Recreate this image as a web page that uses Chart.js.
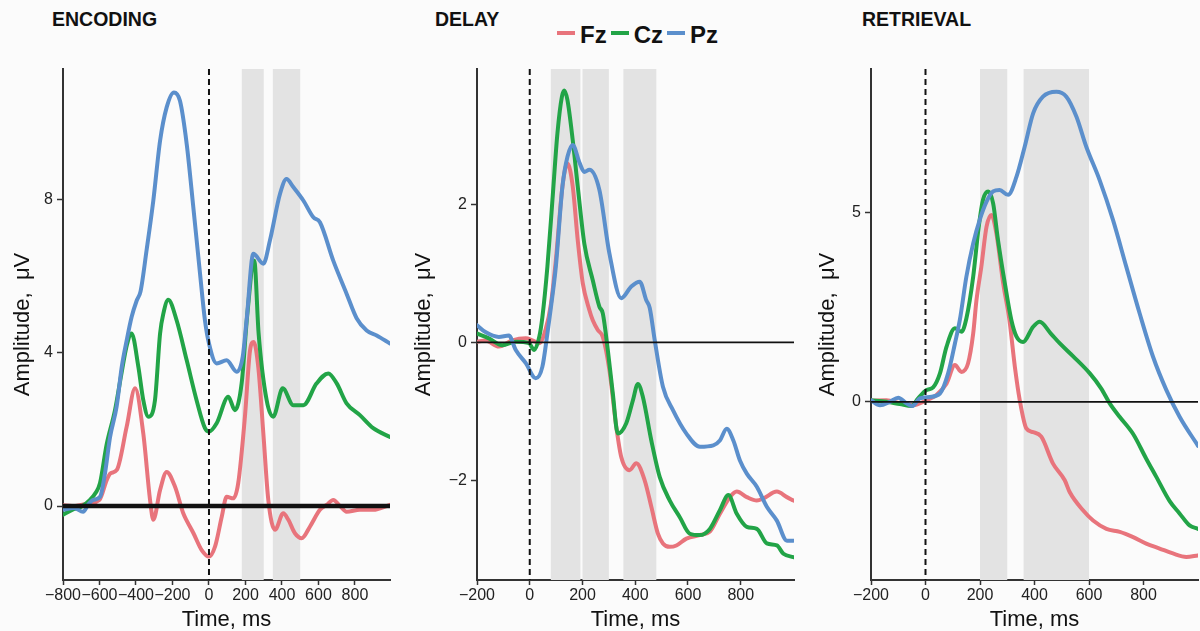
<!DOCTYPE html>
<html lang="en">
<head>
<meta charset="UTF-8">
<title>ERP amplitude: encoding, delay, retrieval</title>
<script src="https://cdn.jsdelivr.net/npm/chart.js"></script>
<style>
    body {
        margin: 0;
        background: #fbfbfb;
        font-family: "Liberation Sans", Arial, sans-serif;
    }

    .page {
        position: relative;
        width: 1200px;
        height: 631px;
        overflow: hidden;
    }

    .panel {
        position: absolute;
        top: 0;
        width: 400px;
        height: 631px;
    }

    .title {
        position: absolute;
        top: 10px;
        font-weight: bold;
        font-size: 19.5px;
        line-height: 1;
        color: #111;
    }

    .legend {
        position: absolute;
        left: 557px;
        top: 23px;
        display: flex;
        align-items: center;
        font-weight: bold;
        font-size: 24px;
        line-height: 1;
        color: #111;
    }

    .legend .swatch {
        display: inline-block;
        width: 18px;
        height: 3.5px;
        margin-right: 5px;
        position: relative;
        top: -2px;
    }

    .legend .name {
        margin-right: 4px;
    }
</style>
</head>
<body>
<div class="page">
    <div class="title" style="left:52px">ENCODING</div>
    <div class="title" style="left:435px">DELAY</div>
    <div class="title" style="left:862px">RETRIEVAL</div>
    <div class="legend" id="legend"></div>

    <div class="panel" style="left:0"><canvas id="encodingChart"></canvas></div>
    <div class="panel" style="left:400px"><canvas id="delayChart"></canvas></div>
    <div class="panel" style="left:800px"><canvas id="retrievalChart"></canvas></div>
</div>

<script>
    // electrodes
    const seriesNames = ['Fz', 'Cz', 'Pz'];
    const seriesColors = ['#E8747C', '#22A447', '#5B8FCC'];

    // [time ms, amplitude µV]
    const encodingFz = [[-800, 0.02], [-750, 0.0], [-700, 0.03], [-650, 0.08], [-600, 0.16], [-560, 0.68], [-540, 0.85], [-505, 0.94], [-451, 2.07], [-405, 3.07], [-360, 1.89], [-323, 0.16], [-305, -0.36], [-268, 0.42], [-232, 0.89], [-186, 0.5], [-141, -0.19], [-120, -0.4], [-85, -0.71], [-40, -1.15], [0, -1.32], [33, -1.06], [70, -0.28], [97, 0.24], [133, 0.2], [160, 0.59], [197, 2.33], [225, 4.06], [245, 4.28], [270, 3.63], [298, 1.89], [325, 0.16], [362, -0.62], [407, -0.19], [435, -0.36], [471, -0.71], [508, -0.84], [553, -0.54], [608, -0.1], [645, 0.03], [681, 0.16], [718, 0.0], [754, -0.15], [827, -0.1], [900, -0.1], [992, 0.03]];
    const encodingCz = [[-800, -0.23], [-750, -0.1], [-700, -0.02], [-652, 0.16], [-620, 0.35], [-597, 0.6], [-561, 1.6], [-515, 2.5], [-478, 3.5], [-450, 4.2], [-424, 4.5], [-387, 3.63], [-360, 2.76], [-332, 2.33], [-296, 2.76], [-268, 4.5], [-250, 5.02], [-223, 5.38], [-177, 4.84], [-122, 3.8], [-68, 2.76], [-22, 2.03], [0, 1.94], [42, 2.16], [106, 2.85], [142, 2.5], [179, 3.2], [210, 5.0], [248, 6.4], [272, 4.5], [316, 2.76], [352, 2.33], [404, 3.07], [462, 2.63], [517, 2.63], [590, 3.2], [654, 3.46], [700, 3.2], [754, 2.68], [827, 2.37], [900, 2.03], [992, 1.8]];
    const encodingPz = [[-800, -0.1], [-740, -0.05], [-690, -0.15], [-660, 0.05], [-634, 0.16], [-597, 0.24], [-570, 0.85], [-542, 1.8], [-506, 2.6], [-478, 3.63], [-451, 4.32], [-424, 4.93], [-396, 5.36], [-375, 5.6], [-342, 6.67], [-305, 7.97], [-268, 9.53], [-232, 10.4], [-192, 10.79], [-159, 10.57], [-122, 9.44], [-86, 7.8], [-49, 6.06], [-22, 4.84], [0, 4.24], [42, 3.72], [97, 3.8], [152, 3.5], [185, 3.9], [206, 4.84], [243, 6.58], [298, 6.32], [334, 6.93], [389, 8.14], [425, 8.53], [462, 8.32], [517, 7.97], [572, 7.53], [608, 7.4], [681, 6.4], [754, 5.54], [809, 4.9], [864, 4.58], [919, 4.45], [992, 4.24]];

    const delayFz = [[-200, 0.01], [-168, 0.03], [-117, -0.06], [-66, 0.03], [-15, 0.06], [10, 0.03], [36, -0.01], [61, 0.2], [80, 0.55], [99, 1.19], [124, 2.26], [143, 2.59], [163, 2.26], [182, 1.48], [201, 0.86], [226, 0.47], [239, 0.32], [258, 0.18], [277, 0.08], [302, -0.4], [328, -1.22], [347, -1.66], [378, -1.85], [404, -1.75], [436, -2.0], [461, -2.38], [486, -2.77], [505, -2.91], [531, -2.96], [556, -2.94], [594, -2.84], [645, -2.79], [683, -2.74], [721, -2.48], [759, -2.24], [785, -2.16], [823, -2.24], [861, -2.29], [886, -2.26], [937, -2.16], [975, -2.24], [1000, -2.29]];
    const delayCz = [[-200, 0.13], [-155, 0.06], [-104, -0.04], [-53, 0.01], [-3, -0.01], [17, -0.11], [36, 0.08], [48, 0.37], [67, 1.1], [86, 2.06], [105, 3.03], [122, 3.56], [131, 3.65], [143, 3.51], [163, 2.93], [182, 2.26], [207, 1.43], [239, 0.9], [264, 0.52], [277, 0.42], [296, -0.11], [315, -0.74], [334, -1.32], [366, -1.17], [391, -0.84], [410, -0.6], [429, -0.79], [461, -1.42], [493, -1.95], [531, -2.29], [569, -2.53], [607, -2.77], [645, -2.79], [683, -2.7], [721, -2.43], [753, -2.21], [785, -2.48], [823, -2.67], [861, -2.7], [899, -2.91], [937, -2.94], [962, -3.06], [1000, -3.11]];
    const delayPz = [[-200, 0.25], [-168, 0.15], [-117, 0.08], [-79, 0.1], [-53, -0.11], [-15, -0.3], [23, -0.52], [48, -0.35], [67, 0.13], [80, 0.5], [99, 1.1], [124, 2.26], [143, 2.69], [163, 2.86], [188, 2.61], [207, 2.47], [226, 2.5], [264, 2.21], [302, 1.29], [347, 0.64], [385, 0.81], [417, 0.88], [442, 0.61], [455, 0.5], [474, 0.03], [505, -0.64], [543, -0.98], [594, -1.32], [645, -1.51], [696, -1.49], [721, -1.42], [747, -1.25], [772, -1.42], [797, -1.71], [823, -1.9], [861, -2.09], [899, -2.38], [937, -2.58], [975, -2.87], [1000, -2.87]];

    const retrievalFz = [[-200, 0.03], [-143, 0.04], [-94, -0.04], [-45, -0.09], [4, 0.04], [40, 0.18], [77, 0.48], [108, 0.97], [132, 0.79], [156, 1.01], [175, 1.8], [187, 2.68], [205, 3.57], [224, 4.62], [242, 4.93], [260, 4.45], [285, 3.13], [308, 2.16], [328, 0.92], [346, 0.04], [370, -0.7], [395, -0.8], [425, -0.92], [468, -1.63], [511, -2.07], [529, -2.38], [578, -2.86], [615, -3.13], [664, -3.35], [713, -3.43], [762, -3.57], [810, -3.74], [859, -3.87], [908, -4.0], [957, -4.09], [1000, -4.05]];
    const retrievalCz = [[-200, 0.04], [-143, 0.0], [-94, -0.06], [-51, -0.11], [-27, 0.09], [4, 0.31], [28, 0.38], [53, 0.75], [77, 1.45], [108, 1.94], [132, 1.85], [150, 2.2], [175, 3.3], [195, 4.6], [211, 5.33], [230, 5.55], [248, 5.24], [266, 4.27], [291, 3.13], [315, 2.16], [334, 1.72], [358, 1.58], [395, 1.98], [419, 2.11], [460, 1.8], [493, 1.54], [542, 1.2], [603, 0.75], [645, 0.35], [676, -0.04], [713, -0.4], [762, -0.85], [810, -1.5], [847, -1.98], [896, -2.62], [933, -2.95], [969, -3.26], [1000, -3.35]];
    const retrievalPz = [[-200, 0.04], [-167, -0.09], [-131, 0.0], [-100, 0.11], [-70, -0.04], [-48, -0.11], [-21, 0.09], [16, 0.13], [53, 0.22], [83, 0.75], [108, 1.54], [126, 2.16], [150, 3.3], [175, 4.18], [199, 4.8], [224, 5.28], [248, 5.55], [272, 5.59], [303, 5.46], [334, 5.94], [364, 6.73], [395, 7.61], [431, 8.05], [480, 8.18], [517, 8.05], [554, 7.52], [590, 6.73], [639, 5.85], [688, 4.8], [737, 3.56], [786, 2.33], [835, 1.19], [884, 0.31], [933, -0.4], [1000, -1.16]];

    // shaded analysis windows, ms
    const encodingBands = [[180, 300], [350, 500]];
    const delayBands = [[80, 192], [200, 300], [355, 480]];
    const retrievalBands = [[200, 300], [360, 600]];

    // tick labels
    const encodingXTicks = [-800, -600, -400, -200, 0, 200, 400, 600, 800];
    const shortXTicks = [-200, 0, 200, 400, 600, 800];
    const encodingYTicks = [0, 4, 8];
    const delayYTicks = [-2, 0, 2];
    const retrievalYTicks = [0, 5];

    const FONT = '"Liberation Sans", Arial, sans-serif';

    // legend
    const legend = document.getElementById('legend');
    seriesNames.forEach((name, i) => {
        const sw = document.createElement('span');
        sw.className = 'swatch';
        sw.style.background = seriesColors[i];
        const lb = document.createElement('span');
        lb.className = 'name';
        lb.textContent = name;
        legend.appendChild(sw);
        legend.appendChild(lb);
    });

    // grey windows under the curves, zero line + onset line over them
    function markers(bands, zeroWidth) {
        return {
            id: 'markers',
            beforeDatasetsDraw(chart) {
                const { ctx, chartArea: a, scales: { x } } = chart;
                ctx.save();
                ctx.fillStyle = '#e3e3e3';
                bands.forEach(([from, to]) => {
                    const x0 = x.getPixelForValue(from);
                    const x1 = x.getPixelForValue(to);
                    ctx.fillRect(x0, a.top, x1 - x0, a.bottom - a.top);
                });
                ctx.restore();
            },
            afterDatasetsDraw(chart) {
                const { ctx, chartArea: a, scales: { x, y } } = chart;
                ctx.save();
                ctx.strokeStyle = '#111';
                const y0 = y.getPixelForValue(0);
                ctx.lineWidth = zeroWidth;
                ctx.beginPath();
                ctx.moveTo(a.left, y0);
                ctx.lineTo(a.right, y0);
                ctx.stroke();

                const x0 = x.getPixelForValue(0);
                ctx.lineWidth = 2;
                ctx.setLineDash([6, 4]);
                ctx.beginPath();
                ctx.moveTo(x0, a.top);
                ctx.lineTo(x0, a.bottom);
                ctx.stroke();
                ctx.restore();
            }
        };
    }

    function makePanel(id, cfg) {
        return new Chart(document.getElementById(id), {
            type: 'line',
            data: {
                datasets: cfg.series.map((pts, i) => ({
                    label: seriesNames[i],
                    data: pts.map(([t, v]) => ({ x: t, y: v })),
                    borderColor: seriesColors[i],
                    backgroundColor: seriesColors[i],
                    borderWidth: 4,
                    pointRadius: 0,
                    cubicInterpolationMode: 'monotone',
                    borderJoinStyle: 'round',
                    borderCapStyle: 'round',
                    order: 3 - i
                }))
            },
            options: {
                responsive: true,
                maintainAspectRatio: false,
                animation: false,
                layout: { padding: { top: 69, right: cfg.padRight, left: 0, bottom: 0 } },
                scales: {
                    x: {
                        type: 'linear',
                        min: cfg.xMin,
                        max: cfg.xMax,
                        afterBuildTicks: s => { s.ticks = cfg.xTicks.map(v => ({ value: v })); },
                        afterFit: s => { s.height = 51; },
                        ticks: {
                            autoSkip: false,
                            maxRotation: 0,
                            padding: 1.4,
                            color: '#222',
                            font: { size: 16, family: FONT },
                            callback: v => String(v).replace('-', '\u2212')
                        },
                        grid: { drawOnChartArea: false, tickLength: 5, tickColor: '#333', tickWidth: 1.5 },
                        border: { color: '#333', width: 2 },
                        title: {
                            display: true,
                            text: 'Time, ms',
                            color: '#111',
                            padding: 0,
                            font: { size: 22, family: FONT, lineHeight: 1 }
                        }
                    },
                    y: {
                        min: cfg.yMin,
                        max: cfg.yMax,
                        afterBuildTicks: s => { s.ticks = cfg.yTicks.map(v => ({ value: v })); },
                        afterFit: s => { s.width = cfg.yWidth; },
                        ticks: {
                            padding: 4,
                            color: '#222',
                            font: { size: 16, family: FONT },
                            callback: v => String(v).replace('-', '\u2212')
                        },
                        grid: { drawOnChartArea: false, tickLength: 6, tickColor: '#333', tickWidth: 1.5 },
                        border: { color: '#333', width: 2 },
                        title: {
                            display: true,
                            text: 'Amplitude,  \u03BCV',
                            color: '#111',
                            padding: { top: cfg.yTitlePad, bottom: 0 },
                            font: { size: 22, family: FONT, lineHeight: 1 }
                        }
                    }
                },
                plugins: {
                    legend: { display: false },
                    tooltip: { enabled: false }
                }
            },
            plugins: [markers(cfg.bands, cfg.zeroWidth)]
        });
    }

    makePanel('encodingChart', {
        series: [encodingFz, encodingCz, encodingPz],
        bands: encodingBands,
        xTicks: encodingXTicks, yTicks: encodingYTicks,
        xMin: -800, xMax: 992, yMin: -1.93, yMax: 11.4,
        yWidth: 63, yTitlePad: 11.5, padRight: 10, zeroWidth: 4.5
    });

    makePanel('delayChart', {
        series: [delayFz, delayCz, delayPz],
        bands: delayBands,
        xTicks: shortXTicks, yTicks: delayYTicks,
        xMin: -200, xMax: 1002, yMin: -3.44, yMax: 3.96,
        yWidth: 77, yTitlePad: 13, padRight: 6, zeroWidth: 1.8
    });

    makePanel('retrievalChart', {
        series: [retrievalFz, retrievalCz, retrievalPz],
        bands: retrievalBands,
        xTicks: shortXTicks, yTicks: retrievalYTicks,
        xMin: -200, xMax: 1000, yMin: -4.7, yMax: 8.78,
        yWidth: 71, yTitlePad: 17, padRight: 2, zeroWidth: 1.8
    });
</script>
</body>
</html>
